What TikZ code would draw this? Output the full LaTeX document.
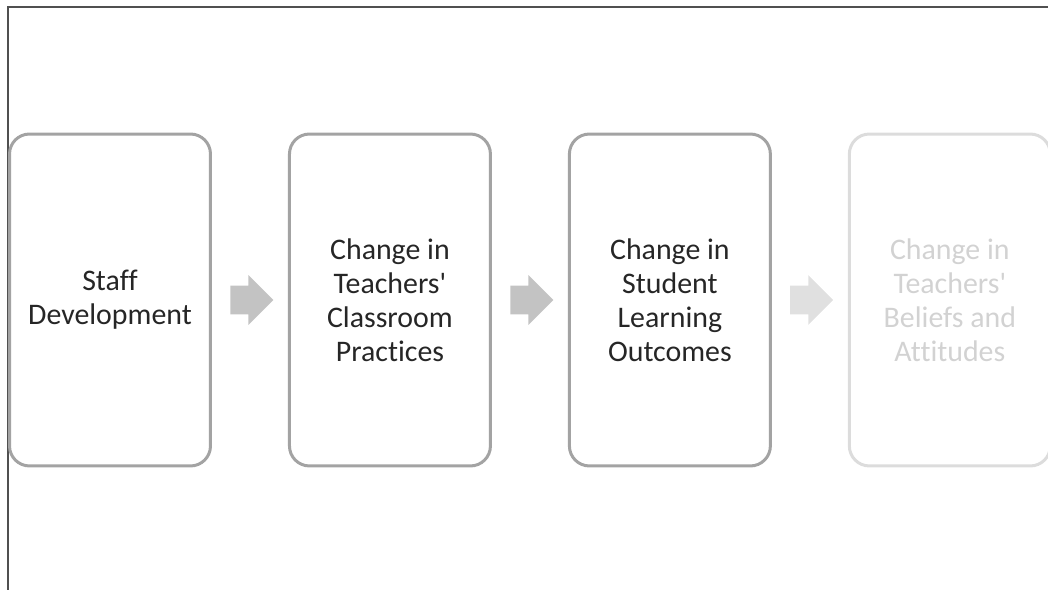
\documentclass[tikz,border=0pt]{standalone}
\usepackage{fontspec}
\setmainfont{Carlito}[Ligatures={TeXOff,CommonOff}]
\usetikzlibrary{positioning,shapes.arrows,calc}

\definecolor{boxgray}{HTML}{A3A3A3}
\definecolor{arrowgray}{HTML}{C3C3C3}
\definecolor{fadegray}{HTML}{DCDCDC}
\definecolor{fadetext}{HTML}{D2D2D2}
\definecolor{fadearrow}{HTML}{E0E0E0}
\definecolor{textdark}{HTML}{262626}
\definecolor{framegray}{HTML}{505050}

\begin{document}
\begin{tikzpicture}
[x=0.02cm, y=-0.02cm,
node distance=1.52cm,
stage/.style={draw=boxgray, line width=0.06cm, rounded corners=0.4cm,
  minimum width=4.02cm, minimum height=6.64cm, align=center,
  text=textdark, font=\fontsize{17}{19.4}\selectfont},
faded/.style={draw=fadegray, text=fadetext},
flow/.style={single arrow, draw=none, fill=arrowgray,
  inner xsep=0pt, inner ysep=0.28cm,
  minimum height=0.86cm, minimum width=0.98cm,
  single arrow head extend=0.21cm, anchor=tail, xshift=-0.4cm}]

\useasboundingbox (0,0) rectangle (1048,590);
\draw[framegray, line width=0.03cm] (8,590) -- (8,7) -- (1048,7);

\node[stage] (staff) at (110,300) {Staff\\Development};
\node[stage, right=of staff] (practices) {Change in\\Teachers'\\Classroom\\Practices};
\node[stage, right=of practices] (outcomes) {Change in\\Student\\Learning\\Outcomes};
\node[stage, faded, right=of outcomes] (beliefs) {Change in\\Teachers'\\Beliefs and\\Attitudes};

\node[flow] (a1) at ($(staff.east)!0.5!(practices.west)$) {};
\node[flow] (a2) at ($(practices.east)!0.5!(outcomes.west)$) {};
\node[flow, fill=fadearrow] (a3) at ($(outcomes.east)!0.5!(beliefs.west)$) {};
\end{tikzpicture}
\end{document}
